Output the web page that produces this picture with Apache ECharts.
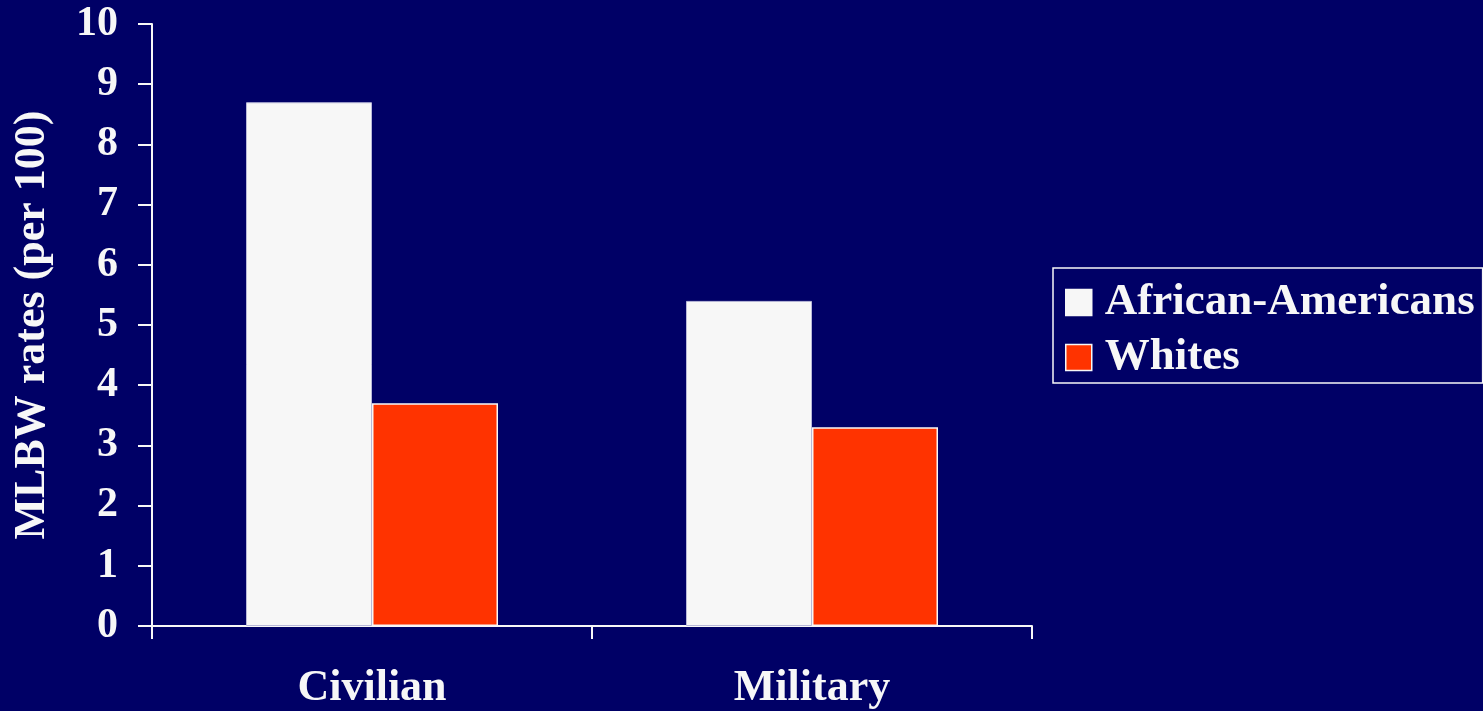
<!DOCTYPE html>
<html>
<head>
<meta charset="utf-8">
<script src="https://cdn.jsdelivr.net/npm/echarts@6/dist/echarts.min.js"></script>
<style>
  html, body { margin: 0; padding: 0; background: #000066; }
  #chart { width: 1483px; height: 711px; }
</style>
</head>
<body>
<div id="chart"></div>
<script>
// MLBW rates per 100 births, by population and race
const categories = ['Civilian', 'Military'];
const seriesNames = ['African-Americans', 'Whites'];
const africanAmericans = [8.7, 5.4];
const whites = [3.7, 3.3];
const yTicks = { min: 0, max: 10, interval: 1 };

const FONT = '"Liberation Serif", "Times New Roman", serif';
const FG = '#F7F7F7';
const colors = ['#F7F7F7', '#FF3300'];

const chart = echarts.init(document.getElementById('chart'), null, { renderer: 'canvas' });

chart.setOption({
  backgroundColor: '#000066',
  animation: false,
  grid: {
    left: 152, right: 451, top: 24, bottom: 85,
    containLabel: false,
    outerBoundsMode: 'none'
  },
  legend: {
    orient: 'vertical',
    left: 1053,
    top: 268,
    padding: [12, 8, 3, 12],
    borderColor: FG,
    borderWidth: 1.5,
    itemWidth: 26,
    itemHeight: 26,
    itemGap: 10,
    icon: 'rect',
    textStyle: {
      color: FG,
      fontFamily: FONT,
      fontWeight: 'bold',
      fontSize: 45,
      lineHeight: 45,
      padding: [0, 0, 0, 8]
    },
    data: seriesNames.map((n, i) => ({
      name: n,
      itemStyle: { color: colors[i], borderColor: FG, borderWidth: 1.5 }
    }))
  },
  xAxis: {
    type: 'category',
    data: categories,
    axisLine: { lineStyle: { color: FG, width: 2 } },
    axisTick: { show: true, length: 13, lineStyle: { color: FG, width: 2 } },
    axisLabel: {
      color: FG,
      fontFamily: FONT,
      fontWeight: 'bold',
      fontSize: 44,
      margin: 41
    },
    splitLine: { show: false }
  },
  yAxis: {
    type: 'value',
    min: yTicks.min,
    max: yTicks.max,
    interval: yTicks.interval,
    name: 'MLBW rates (per 100)',
    nameLocation: 'middle',
    nameGap: 97,
    nameRotate: 90,
    nameTextStyle: {
      color: FG,
      fontFamily: FONT,
      fontWeight: 'bold',
      fontSize: 44
    },
    axisLine: { show: true, lineStyle: { color: FG, width: 2 } },
    axisTick: { show: true, length: 14, lineStyle: { color: FG, width: 2 } },
    axisLabel: {
      color: FG,
      fontFamily: FONT,
      fontWeight: 'bold',
      fontSize: 42,
      margin: 34
    },
    splitLine: { show: false }
  },
  series: [
    {
      name: seriesNames[0],
      type: 'bar',
      data: africanAmericans,
      barWidth: 126,
      barGap: '0%',
      itemStyle: { color: colors[0], borderColor: '#B8B8D8', borderWidth: 1 }
    },
    {
      name: seriesNames[1],
      type: 'bar',
      data: whites,
      barWidth: 126,
      barGap: '0%',
      itemStyle: { color: colors[1], borderColor: FG, borderWidth: 1.5 }
    }
  ]
});
</script>
</body>
</html>
